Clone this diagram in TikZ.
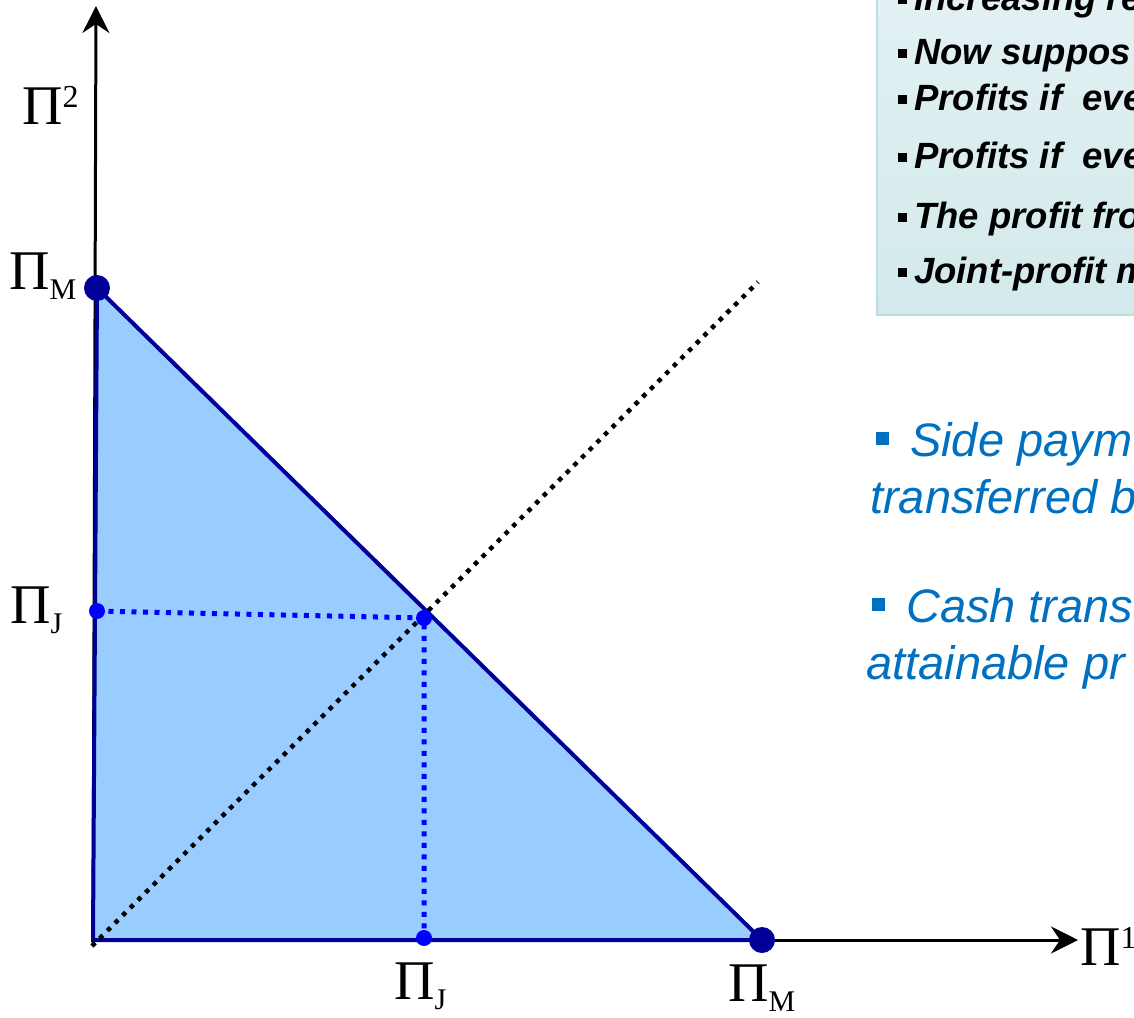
\documentclass[tikz,border=0pt]{standalone}
\usepackage{fontspec}
\newfontfamily\arial{Liberation Sans}
\newfontfamily\tnr{Liberation Serif}
\usetikzlibrary{arrows.meta}
\definecolor{navy}{HTML}{000099}
\definecolor{fillblue}{HTML}{99CCFF}
\definecolor{dotblue}{HTML}{0000FF}
\definecolor{txtblue}{HTML}{0070C0}
\definecolor{boxtop}{HTML}{E3F1F3}
\definecolor{boxbot}{HTML}{D3E9EB}
\definecolor{boxedge}{HTML}{BEDDE0}
\tikzset{
  axis/.style={line width=3pt, -{Stealth[length=27pt,width=27pt,inset=9pt]}},
  frontier/.style={line width=4pt, navy, line join=round},
  bigdot/.style={circle, fill=navy, inner sep=0pt, minimum size=26pt},
  smalldot/.style={circle, fill=dotblue, inner sep=0pt, minimum size=16pt},
  bluedots/.style={line width=5pt, dotblue, dash pattern=on 5pt off 6.5pt},
  blackdots/.style={line width=4.5pt, black, dash pattern=on 4.5pt off 6.3pt},
  pilab/.style={inner sep=0pt, anchor=base west, font=\tnr\fontsize{56}{60}\selectfont},
  boxtxt/.style={inner sep=0pt, anchor=base west, font=\arial\bfseries\itshape\fontsize{36.5}{40}\selectfont},
  bluetxt/.style={inner sep=0pt, anchor=base west, text=txtblue, font=\arial\itshape\fontsize{47}{52}\selectfont},
}
\newcommand{\blk}{\rule[6pt]{9pt}{9pt}\hspace{7pt}}
\newcommand{\bblt}{{\upshape\rule[11pt]{13pt}{13pt}}\hspace{21pt}}
\newcommand{\psub}[1]{\raisebox{-10pt}{\fontsize{30}{32}\selectfont #1}}
\newcommand{\psup}[1]{\raisebox{17pt}{\fontsize{32}{34}\selectfont #1}}
\begin{document}
\begin{tikzpicture}[x=1pt,y=1pt]
\useasboundingbox (0,0) rectangle (1134,-1017);
\clip (0,0) rectangle (1134,-1017);
% text box
\shade[top color=boxtop, bottom color=boxbot, draw=boxedge, line width=1.5pt] (877,10) rectangle (1150,-315);
\node[boxtxt] (t1) at (898,-10) {\blk Increasing re};
\node[boxtxt] (t2) at (898,-64) {\blk Now suppos};
\node[boxtxt] (t3) at (898,-110) {\blk Profits if\ \ eve};
\node[boxtxt] (t4) at (898,-168) {\blk Profits if\ \ eve};
\node[boxtxt] (t5) at (898,-228) {\blk The profit fro};
\node[boxtxt] (t6) at (898,-283) {\blk Joint-profit m};
% blue text
\node[bluetxt] (b1) at (876,-456) {\bblt Side paym};
\node[bluetxt] (b2) at (870,-513) {transferred b};
\node[bluetxt] (b3) at (872,-622) {\bblt Cash trans};
\node[bluetxt] (b4) at (866,-679) {attainable pr};
% coordinates
\coordinate (O) at (93,-940);
\coordinate (Ytop) at (96,-6);
\coordinate (Xend) at (1078,-940);
\coordinate (A) at (97,-288);
\coordinate (B) at (762,-940);
\coordinate (D) at (758,-282);
\coordinate (Ds) at (92,-946);
\coordinate (J) at (424,-618);
\coordinate (Jy) at (97,-611);
\coordinate (Jx) at (424,-938);
% triangle
\fill[fillblue] (O) -- (A) -- (B) -- cycle;
% axes
\draw[axis] (93,-944) -- (Ytop);
\draw[axis] (91,-940) -- (Xend);
% frontier
\draw[frontier] (O) -- (A) -- (B) -- (O);
% diagonal
\draw[blackdots] (Ds) -- (D);
% blue dotted
\draw[bluedots] (Jy) -- (J) -- (Jx);
\node[smalldot] (jy) at (Jy) {};
\node[smalldot] (j) at (J) {};
\node[smalldot] (jx) at (Jx) {};
\node[bigdot] (a) at (A) {};
\node[bigdot] (b) at (B) {};
% labels
\node[pilab] (p2) at (22,-124) {Π\psup{2}};
\node[pilab] (pm) at (9,-289) {Π\psub{M}};
\node[pilab] (pj) at (10,-623) {Π\psub{J}};
\node[pilab] (pjx) at (394,-999) {Π\psub{J}};
\node[pilab] (pmx) at (728,-1001) {Π\psub{M}};
\node[pilab] (p1) at (1080,-965) {Π\psup{1}};
\end{tikzpicture}
\end{document}
